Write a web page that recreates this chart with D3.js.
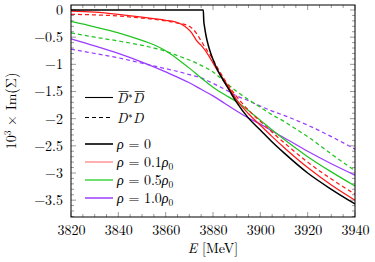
<!DOCTYPE html>
<html>
<head>
<meta charset="utf-8">
<script src="https://cdn.jsdelivr.net/npm/d3@7"></script>
<style>
  body { margin: 0; background: #fff; }
</style>
</head>
<body>
<div id="chart"></div>
<script>
// energies in MeV, values are 10^3 x Im(Sigma)
const rho0 = [[3820, 0], [3875.9, 0], [3876.1, -0.2], [3876.4, -0.3], [3877, -0.46], [3878, -0.65], [3879, -0.79],
  [3880, -0.91], [3882, -1.11], [3884, -1.27], [3886, -1.41], [3888, -1.56], [3890, -1.70], [3895, -1.99],
  [3900, -2.21], [3905, -2.43], [3910, -2.63], [3920, -3.00], [3930, -3.30], [3940, -3.57]];

const rho01Bar = [[3820, -0.02], [3830, -0.04], [3840, -0.08], [3850, -0.13], [3855, -0.16], [3860, -0.19],
  [3864, -0.22], [3867, -0.27], [3869, -0.33], [3871, -0.42], [3872, -0.49], [3873, -0.56], [3875, -0.65],
  [3877, -0.76], [3879, -0.90], [3882, -1.12], [3885, -1.31], [3888, -1.52], [3891, -1.71], [3895, -1.91],
  [3900, -2.12], [3905, -2.33], [3910, -2.53], [3920, -2.90], [3930, -3.22], [3940, -3.50]];
const rho01 = [[3820, -0.08], [3830, -0.09], [3840, -0.11], [3850, -0.15], [3860, -0.20], [3865, -0.24],
  [3869, -0.28], [3871, -0.33], [3873, -0.43], [3875, -0.57], [3877, -0.71], [3879, -0.84], [3882, -1.07],
  [3885, -1.29], [3888, -1.48], [3892, -1.70], [3897, -1.93], [3900, -2.05], [3905, -2.25], [3910, -2.44],
  [3920, -2.80], [3930, -3.11], [3940, -3.39]];

const rho05Bar = [[3820, -0.21], [3830, -0.31], [3840, -0.42], [3850, -0.56], [3855, -0.64], [3860, -0.75],
  [3865, -0.90], [3870, -1.07], [3875, -1.25], [3880, -1.42], [3885, -1.56], [3890, -1.69], [3895, -1.85],
  [3900, -2.03], [3905, -2.21], [3910, -2.38], [3920, -2.70], [3930, -2.98], [3940, -3.24]];
const rho05 = [[3820, -0.42], [3830, -0.50], [3840, -0.57], [3850, -0.65], [3855, -0.70], [3860, -0.76],
  [3865, -0.84], [3870, -0.92], [3875, -1.02], [3880, -1.14], [3885, -1.32], [3890, -1.50], [3895, -1.65],
  [3900, -1.79], [3905, -1.93], [3910, -2.05], [3915, -2.19], [3920, -2.33], [3930, -2.65], [3940, -2.96]];

const rho10Bar = [[3820, -0.53], [3830, -0.66], [3840, -0.80], [3850, -0.96], [3860, -1.14], [3870, -1.34],
  [3875, -1.46], [3880, -1.58], [3885, -1.72], [3890, -1.86], [3895, -1.99], [3900, -2.10], [3905, -2.23],
  [3910, -2.35], [3920, -2.60], [3930, -2.83], [3940, -3.04]];
const rho10 = [[3820, -0.72], [3830, -0.80], [3840, -0.88], [3850, -0.98], [3860, -1.08], [3865, -1.13],
  [3870, -1.19], [3875, -1.25], [3880, -1.35], [3885, -1.46], [3890, -1.58], [3895, -1.67], [3900, -1.77],
  [3905, -1.86], [3910, -1.94], [3920, -2.12], [3930, -2.33], [3940, -2.56]];

const xTicks = [3820, 3840, 3860, 3880, 3900, 3920, 3940];
const yTicks = [0, -0.5, -1, -1.5, -2, -2.5, -3, -3.5];
const densities = ["0", "0.1", "0.5", "1.0"];
const colors = ["#000000", "#ff1a1a", "#22c422", "#9b3dff"];
const legendColors = ["#000000", "#ff9c9c", "#4bd84b", "#a24cff"];

const width = 375, height = 262;
const margin = { left: 71, right: 20, top: 5, bottom: 45 };
const serif = '"Latin Modern Roman", "Liberation Serif", serif';

const svg = d3.select("#chart").append("svg")
  .attr("width", width).attr("height", height);

const x = d3.scaleLinear().domain([3820, 3940]).range([margin.left, width - margin.right]);
const y = d3.scaleLinear().domain([-3.81, 0.092]).range([height - margin.bottom, margin.top]);

const x0 = x.range()[0], x1 = x.range()[1], y0 = y.range()[0], y1 = y.range()[1];

// ticks, drawn inward on all four sides
const ticks = svg.append("g").attr("stroke", "#555").attr("stroke-width", 0.6);
const xMinor = d3.range(3820, 3941, 5);
const yMinor = d3.range(-38, 1, 1).map(d => d / 10);
xMinor.forEach(v => {
  const len = xTicks.includes(v) ? 5 : 3;
  ticks.append("line").attr("x1", x(v)).attr("x2", x(v)).attr("y1", y0).attr("y2", y0 - len);
  ticks.append("line").attr("x1", x(v)).attr("x2", x(v)).attr("y1", y1).attr("y2", y1 + len);
});
yMinor.forEach(v => {
  const len = yTicks.some(t => Math.abs(t - v) < 1e-6) ? 5 : 3;
  ticks.append("line").attr("y1", y(v)).attr("y2", y(v)).attr("x1", x0).attr("x2", x0 + len);
  ticks.append("line").attr("y1", y(v)).attr("y2", y(v)).attr("x1", x1).attr("x2", x1 - len);
});

// axes, only for the labels
const fmt = d => d === 0 ? "0" : d3.format("")(d).replace("-", "\u2212");
svg.append("g").attr("transform", `translate(0,${y0})`)
  .call(d3.axisBottom(x).tickValues(xTicks).tickSize(0).tickPadding(8).tickFormat(d3.format("d")))
  .call(g => g.select(".domain").remove())
  .selectAll("text").attr("fill", "#000").style("font-family", serif).style("font-size", "14px");
svg.append("g").attr("transform", `translate(${x0},0)`)
  .call(d3.axisLeft(y).tickValues(yTicks).tickSize(0).tickPadding(8).tickFormat(fmt))
  .call(g => g.select(".domain").remove())
  .selectAll("text").attr("fill", "#000").style("font-family", serif).style("font-size", "14px");

// curves
const plot = svg.append("g");
const line = d3.line().x(d => x(d[0])).y(d => y(d[1])).curve(d3.curveMonotoneX);
const series = [
  { data: rho10, color: colors[3], dash: "4,3" },
  { data: rho10Bar, color: colors[3] },
  { data: rho05, color: colors[2], dash: "4,3" },
  { data: rho05Bar, color: colors[2] },
  { data: rho01, color: colors[1], dash: "4,3" },
  { data: rho01Bar, color: colors[1] },
  { data: rho0, color: colors[0], width: 1.5 }
];
plot.selectAll("path").data(series).enter().append("path")
  .attr("fill", "none")
  .attr("stroke", d => d.color)
  .attr("stroke-width", d => d.width || 1.25)
  .attr("stroke-dasharray", d => d.dash || null)
  .attr("d", d => line(d.data));

// frame
svg.append("rect").attr("x", x0).attr("y", y1).attr("width", x1 - x0).attr("height", y0 - y1)
  .attr("fill", "none").attr("stroke", "#000").attr("stroke-width", 1);

// legend
const legend = svg.append("g");
const lx = 85, lw = 28, tx = 117, fs = 14;
const addText = (px, py, size) => legend.append("text").attr("x", px).attr("y", py)
  .style("font-family", serif).style("font-size", (size || fs) + "px");

legend.append("line").attr("x1", lx).attr("x2", lx + lw).attr("y1", 97.5).attr("y2", 97.5)
  .attr("stroke", "#000").attr("stroke-width", 1.1);
legend.append("line").attr("x1", lx).attr("x2", lx + lw).attr("y1", 117.5).attr("y2", 117.5)
  .attr("stroke", "#000").attr("stroke-width", 1.1).attr("stroke-dasharray", "4,3");

// D*D with optional bars, pieces placed one after another
function mesonPair(py, bar) {
  let cx = tx;
  const d1 = addText(cx, py).attr("font-style", "italic").text("D");
  const w1 = d1.node().getComputedTextLength();
  if (bar) legend.append("line").attr("x1", cx + 1.5).attr("x2", cx + w1 + 1).attr("y1", py - 11).attr("y2", py - 11)
    .attr("stroke", "#000").attr("stroke-width", 0.7);
  cx += w1 + 0.5;
  const st = addText(cx, py - 5, 9).text("\u2217");
  cx += st.node().getComputedTextLength() + 0.5;
  const d2 = addText(cx, py).attr("font-style", "italic").text("D");
  const w2 = d2.node().getComputedTextLength();
  if (bar) legend.append("line").attr("x1", cx + 1.5).attr("x2", cx + w2 + 1).attr("y1", py - 11).attr("y2", py - 11)
    .attr("stroke", "#000").attr("stroke-width", 0.7);
}
mesonPair(102.5, true);
mesonPair(122.5, false);

densities.forEach((r, i) => {
  const ly = 144 + i * 18;
  legend.append("line").attr("x1", lx).attr("x2", lx + lw).attr("y1", ly).attr("y2", ly)
    .attr("stroke", legendColors[i]).attr("stroke-width", 1.6);
  const t = addText(tx, ly + 4.5);
  t.append("tspan").attr("font-style", "italic").text("\u03c1");
  t.append("tspan").text(" = " + r);
  if (r !== "0") {
    t.append("tspan").attr("font-style", "italic").text("\u03c1");
    t.append("tspan").attr("dy", 3).style("font-size", "9.5px").text("0");
  }
});

// axis titles
const xl = svg.append("text").attr("x", (x0 + x1) / 2).attr("y", 253)
  .attr("text-anchor", "middle").style("font-family", serif).style("font-size", "14px");
xl.append("tspan").attr("font-style", "italic").text("E");
xl.append("tspan").text(" [MeV]");

const yl = svg.append("text").attr("transform", `translate(16,${(y0 + y1) / 2}) rotate(-90)`)
  .attr("text-anchor", "middle").style("font-family", serif).style("font-size", "14px");
yl.append("tspan").text("10");
yl.append("tspan").attr("dy", -5).style("font-size", "9.5px").text("3");
yl.append("tspan").attr("dy", 5).text(" \u00d7 Im(\u03a3)");
</script>
</body>
</html>
